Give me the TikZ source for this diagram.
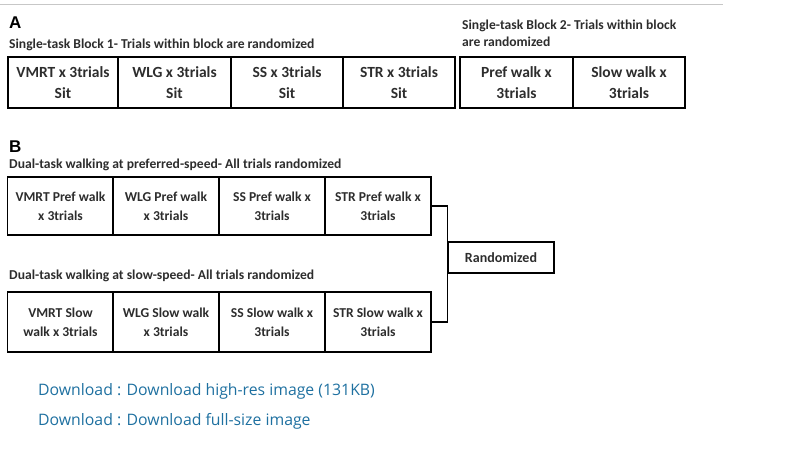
\documentclass[tikz,border=0pt]{standalone}
\usepackage{fontspec}
\setmainfont{Carlito}
\newfontfamily\panelfont{Liberation Sans}
\newfontfamily\linkfont{Open Sans}
\usetikzlibrary{positioning}
\definecolor{linkblue}{RGB}{30,112,160}
\definecolor{inkgray}{RGB}{45,45,45}

\begin{document}
\begin{tikzpicture}[x=1pt, y=-1pt,
    cellA/.style={draw, line width=1.3pt, minimum width=112pt, minimum height=51pt, inner sep=0pt,
      align=center, text=inkgray, font=\bfseries\fontsize{15.5}{21}\selectfont},
    cellB/.style={draw, line width=1.3pt, minimum width=106pt, minimum height=#1, inner sep=0pt,
      align=center, text=inkgray, font=\bfseries\fontsize{13.6}{19}\selectfont},
    heading/.style={anchor=base west, inner sep=0pt, text=inkgray, font=\bfseries\fontsize{13.6}{17}\selectfont},
    panel/.style={anchor=base west, inner sep=0pt, font=\panelfont\bfseries\fontsize{17}{17}\selectfont},
    weblink/.style={anchor=base west, inner sep=0pt, text=linkblue, font=\linkfont\fontsize{15.8}{16}\selectfont},
    link/.style={line width=1.3pt}]
    \useasboundingbox (0,0) rectangle (810,469);
    \draw[black!22, line width=0.8pt] (0,4) -- (723,4);

    % panel A
    \node[panel] (labA) at (9,28) {A};
    \node[heading] (headA1) at (9,48) {Single-task Block 1- Trials within block are randomized};
    \node[heading, align=left] (headA2) at (462,46) {Single-task Block 2- Trials within block\\are randomized};
    \node[cellA, minimum width=110pt] (sitVMRT) at (63,82.5) {VMRT x 3trials\\Sit};
    \node[cellA, minimum width=113pt] (sitWLG) at (174.5,82.5) {WLG x 3trials\\Sit};
    \node[cellA] (sitSS) at (287,82.5) {SS x 3trials\\Sit};
    \node[cellA] (sitSTR) at (399,82.5) {STR x 3trials\\Sit};
    \node[cellA, minimum width=113pt] (walkPref) at (516.5,82.5) {Pref walk x\\3trials};
    \node[cellA] (walkSlow) at (629,82.5) {Slow walk x\\3trials};

    % panel B
    \node[panel] (labB) at (9,152) {B};
    \node[heading] (headB1) at (9,168) {Dual-task walking at preferred-speed- All trials randomized};
    \node[cellB=58pt] (prefVMRT) at (60.5,206) {VMRT Pref walk\\x 3trials};
    \node[cellB=58pt] (prefWLG) at (166,206) {WLG Pref walk\\x 3trials};
    \node[cellB=58pt] (prefSS) at (272,206) {SS Pref walk x\\3trials};
    \node[cellB=58pt] (prefSTR) at (378,206) {STR Pref walk x\\3trials};

    \node[heading] (headB2) at (9,279) {Dual-task walking at slow-speed- All trials randomized};
    \node[cellB=60pt] (slowVMRT) at (60.5,322) {VMRT Slow\\walk x 3trials};
    \node[cellB=60pt] (slowWLG) at (166,322) {WLG Slow walk\\x 3trials};
    \node[cellB=60pt] (slowSS) at (272,322) {SS Slow walk x\\3trials};
    \node[cellB=60pt] (slowSTR) at (378,322) {STR Slow walk x\\3trials};

    \node[cellB=31pt, font=\bfseries\fontsize{14}{16}\selectfont] (rand) at (501,257.5) {Randomized};
    \draw[link] (prefSTR.east) -| (rand.north west);
    \draw[link] (slowSTR.east) -| (rand.south west);

    % links under the figure
    \node[weblink] (dlHigh) at (38,395) {Download : Download high-res image (131KB)};
    \node[weblink] (dlFull) at (38,425) {Download : Download full-size image};
\end{tikzpicture}
\end{document}
